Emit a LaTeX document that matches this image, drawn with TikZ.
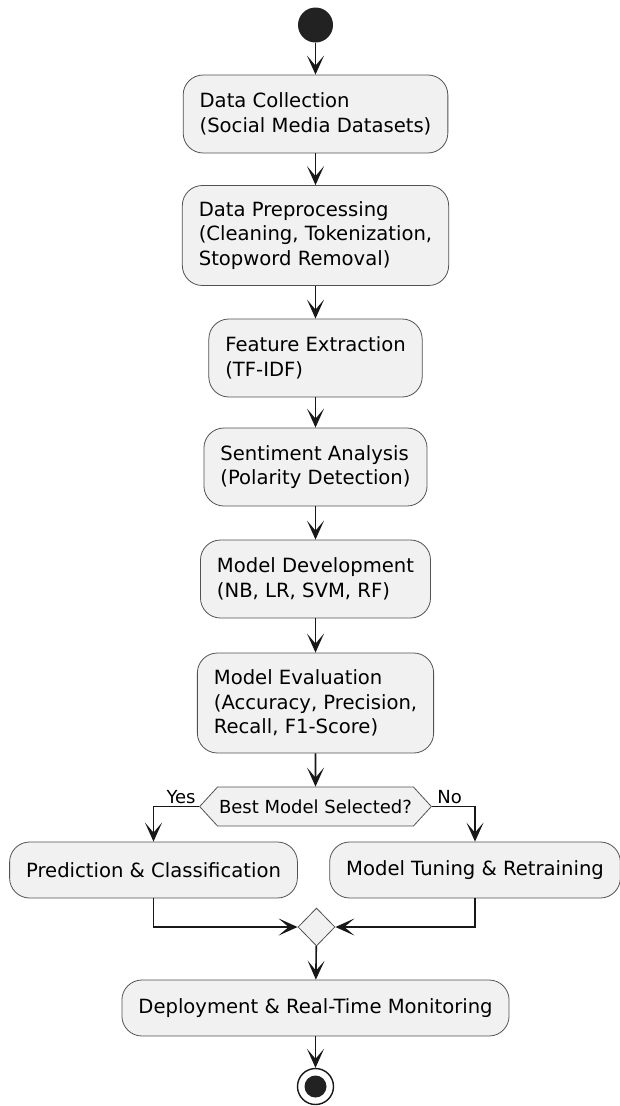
\documentclass[tikz,border=0pt]{standalone}
\usepackage{fontspec}
\setmainfont{DejaVu Sans}
\usepackage{xcolor}
\usepackage{tikz}
\usetikzlibrary{arrows.meta,shapes.geometric,shapes.symbols}

\definecolor{boxfill}{HTML}{F1F1F1}
\definecolor{linec}{HTML}{181818}
\definecolor{dotc}{HTML}{222222}
\newcommand{\actfont}{\fontsize{19.6}{24.5}\selectfont}
\newcommand{\lblfont}{\fontsize{18}{22}\selectfont}

\begin{document}
\begin{tikzpicture}[x=1pt, y=-1pt,
    act/.style={draw=linec!75, line width=0.8pt, fill=boxfill, rounded corners=20pt,
                align=left, inner xsep=16.5pt, inner ysep=0pt, font=\actfont},
    decision/.style={signal, signal to=west and east, signal pointer angle=95,
                     draw=linec!75, line width=0.8pt, fill=boxfill,
                     minimum height=39pt, inner xsep=1.5pt, inner ysep=0pt, font=\lblfont},
    merger/.style={diamond, draw=linec!75, line width=0.8pt, fill=boxfill,
                   minimum width=37pt, minimum height=38pt, inner sep=0pt},
    flow/.style={draw=linec, line width=1.6pt,
                 -{Stealth[length=19pt, width=17pt, inset=10pt]}},
    lbl/.style={font=\lblfont},
]
\useasboundingbox (0,0) rectangle (620,1106);

% Start
\node[circle, fill=dotc, minimum size=35pt, inner sep=0pt] (start) at (315.5,25) {};

% === Main pipeline ===
\node[act, minimum height=78pt] (collect) at (315.5,114)
    {Data Collection\\(Social Media Datasets)};
\node[act, minimum height=100pt] (prep) at (315.5,235.5)
    {Data Preprocessing\\(Cleaning, Tokenization,\\Stopword Removal)};
\node[act, minimum height=78pt] (feat) at (315.5,358)
    {Feature Extraction\\(TF-IDF)};
\node[act, minimum height=78pt] (senti) at (315.5,467)
    {Sentiment Analysis\\(Polarity Detection)};
\node[act, minimum height=78pt] (model) at (315.5,579)
    {Model Development\\(NB, LR, SVM, RF)};
\node[act, minimum height=100pt] (eval) at (315.5,703)
    {Model Evaluation\\(Accuracy, Precision,\\Recall, F1-Score)};

\draw[flow] (start) -- (collect);
\draw[flow] (collect) -- (prep);
\draw[flow] (prep) -- (feat);
\draw[flow] (feat) -- (senti);
\draw[flow] (senti) -- (model);
\draw[flow] (model) -- (eval);

% === Decision ===
\node[decision] (best) at (315.5,806.5) {Best Model Selected?};
\draw[flow] (eval) -- (best);

\node[act, minimum height=56pt] (predict) at (153.5,870) {Prediction \& Classification};
\node[act, minimum height=56pt] (tune) at (475,870) {Model Tuning \& Retraining};

\draw[flow] (best.west) -| (predict.north);
\draw[flow] (best.east) -| (tune.north);
\node[lbl, anchor=base east, yshift=3.5pt] (yes) at (best.west) {Yes};
\node[lbl, anchor=base west, xshift=2pt, yshift=3.5pt] (no) at (best.east) {No};

% === Merge ===
\node[merger] (merge) at (316.5,927) {};
\draw[flow] (predict.south) |- (merge.west);
\draw[flow] (tune.south) |- (merge.east);

\node[act, minimum height=56pt] (deploy) at (315.5,1008) {Deployment \& Real-Time Monitoring};
\draw[flow] (merge) -- (deploy);

% Stop
\node[circle, draw=linec, line width=1.4pt, fill=white, minimum size=36pt, inner sep=0pt]
    (stop) at (315.5,1086.5) {};
\node[circle, fill=dotc, minimum size=22pt, inner sep=0pt] (stopdot) at (stop) {};
\draw[flow] (deploy) -- (stop);

\end{tikzpicture}
\end{document}
